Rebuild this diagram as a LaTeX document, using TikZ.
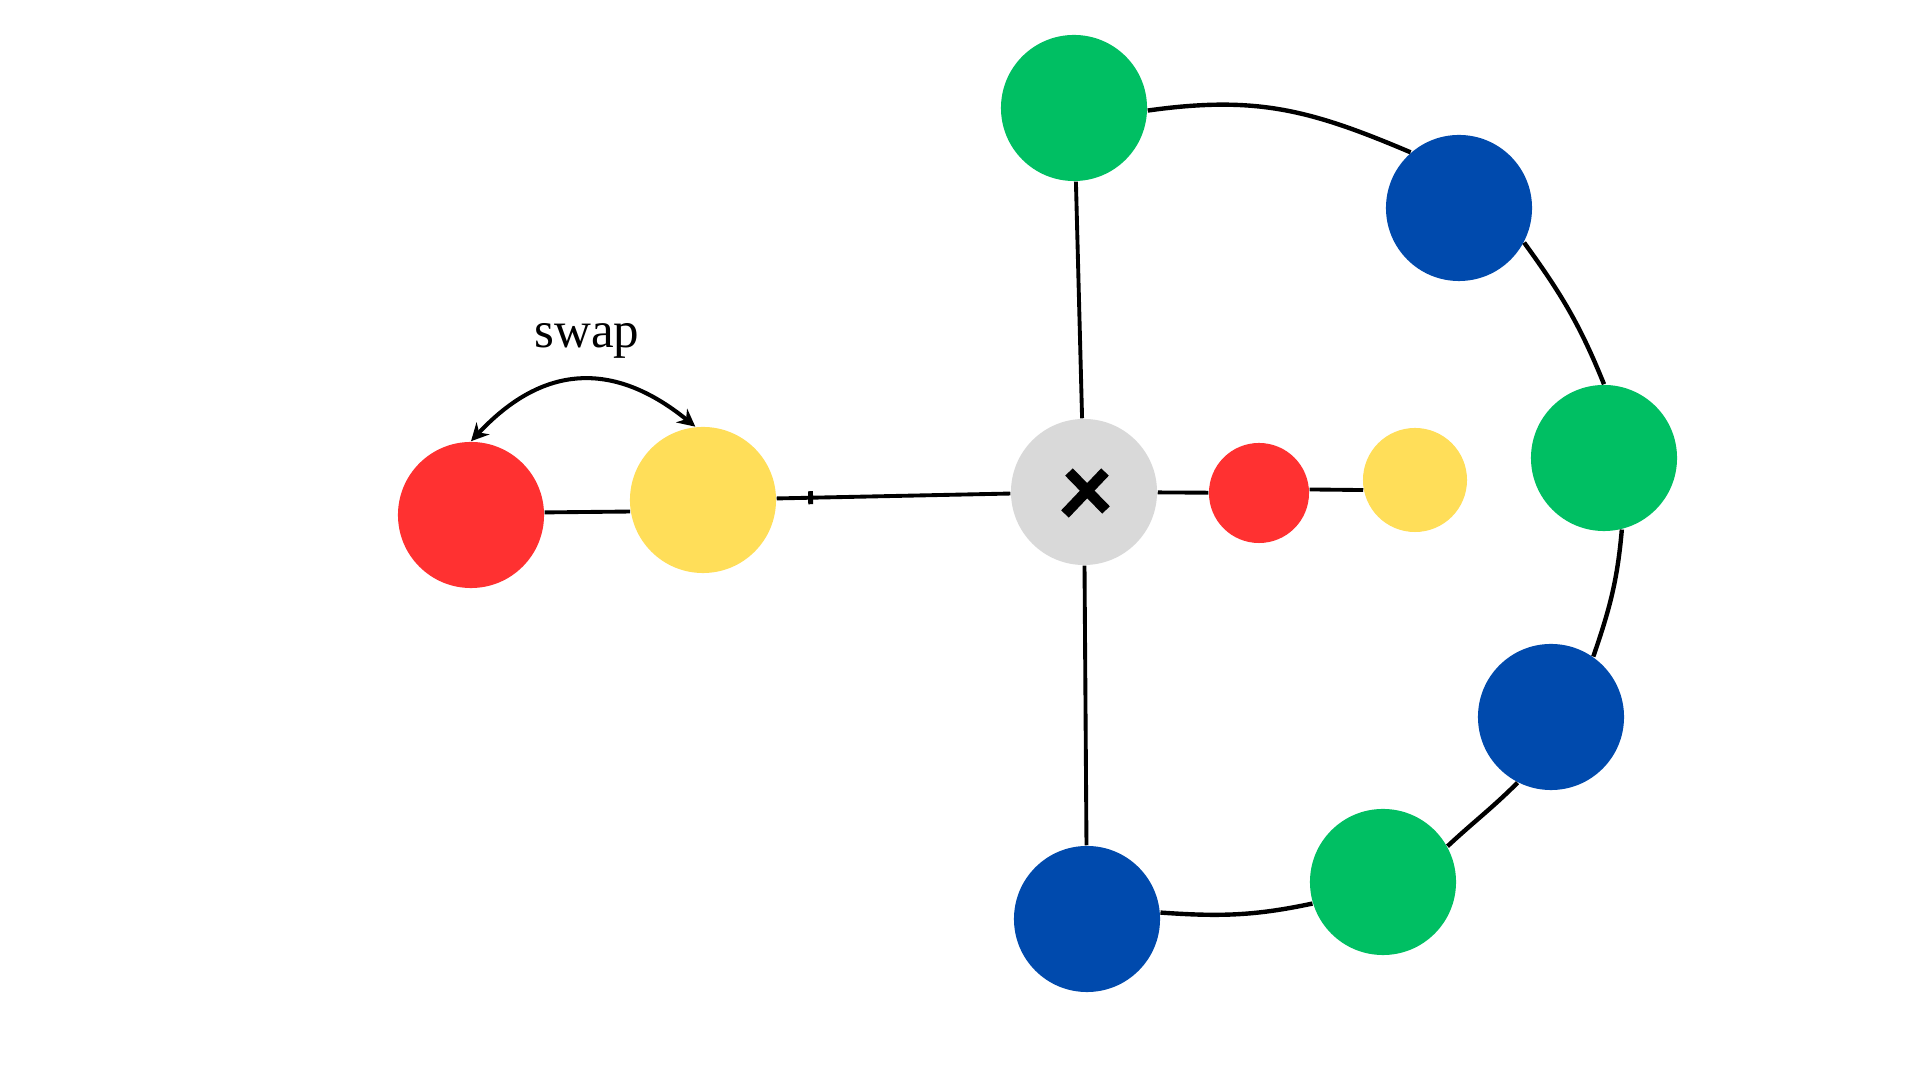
\documentclass[tikz,border=0pt]{standalone}
\usepackage{fontspec}
\setmainfont{Liberation Serif}
\usetikzlibrary{arrows.meta}
\definecolor{cred}{HTML}{FF3131}
\definecolor{cyellow}{HTML}{FFDE59}
\definecolor{cgreen}{HTML}{00BF63}
\definecolor{cblue}{HTML}{004AAD}
\definecolor{cgray}{HTML}{D9D9D9}
\tikzset{
  ball/.style={circle, inner sep=0pt, minimum size=1.46cm, draw=none},
  smallball/.style={circle, inner sep=0pt, draw=none},
  link/.style={line width=1.1pt, black},
  ring/.style={line width=1.25pt, black},
  crossstroke/.style={line width=3pt, black},
  ticknode/.style={fill=black, inner sep=0pt, minimum width=1.4pt, minimum height=0.13cm},
  swaparrow/.style={line width=1.15pt, {Stealth[length=5pt,width=5pt]}-{Stealth[length=5pt,width=5pt]}}
}
\begin{document}
\begin{tikzpicture}[x=0.01cm, y=-0.01cm]
\useasboundingbox (0,0) rectangle (1920,1080);
% nodes
\node[ball, fill=cred]    (redL) at (471,515) {};
\node[ball, fill=cyellow] (yelL) at (703,500) {};
\node[ball, fill=cgray]   (gray) at (1084,492) {};
\node[smallball, fill=cred, minimum size=1.00cm]    (sred) at (1259,493) {};
\node[smallball, fill=cyellow, minimum size=1.04cm] (syel) at (1415,480) {};
\node[ball, fill=cgreen] (g1) at (1074,108) {};
\node[ball, fill=cblue]  (b1) at (1459,208) {};
\node[ball, fill=cgreen] (g2) at (1604,458) {};
\node[ball, fill=cblue]  (b2) at (1551,717) {};
\node[ball, fill=cgreen] (g3) at (1383,882) {};
\node[ball, fill=cblue]  (b3) at (1087,919) {};
\node[font=\fontsize{14.5}{17}\selectfont, anchor=base] (swaplbl) at (587,348) {swap};
% straight links
\draw[link] (redL.2) -- (yelL.189);
\draw[link] (yelL) -- node[pos=0.145, ticknode, sloped] {} (gray);
\draw[link] (gray) -- (sred);
\draw[link] (sred.4) -- (syel.191);
\draw[link] (gray) -- (g1);
\draw[link] (gray) -- (b3);
% ring
\draw[ring] (g1.-2) to[out=8, in=157, looseness=1.05] (b1.131);
\draw[ring] (b1.-28) to[out=-54, in=112] (g2.90);
\draw[ring] (g2.-76) to[out=-95, in=71] (b2.55);
\draw[ring] (b2.-117) to[out=-135, in=43] (g3.29);
\draw[ring] (g3.-163) to[out=-168, in=-4] (b3.5);
% swap arrow
\draw[swaparrow] (redL.north) to[out=47, in=141, looseness=1.2] (yelL.96);
% cross mark
\draw[crossstroke] ([shift={(-19,22)}]gray.center) -- ([shift={(21,-20)}]gray.center);
\draw[crossstroke] ([shift={(-15,-20)}]gray.center) -- ([shift={(22,18)}]gray.center);
\end{tikzpicture}
\end{document}
